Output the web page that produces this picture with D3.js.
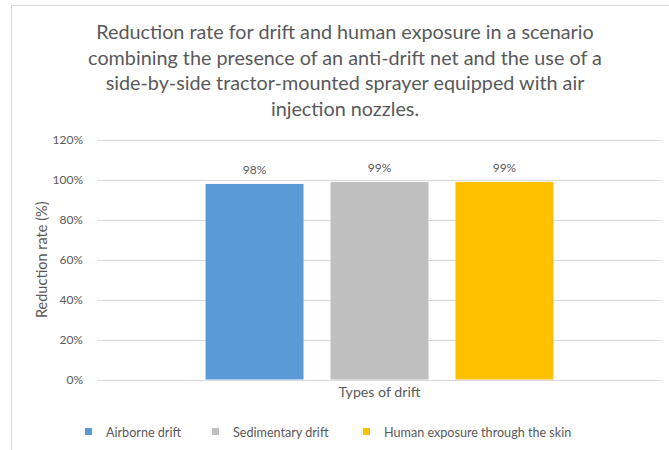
<!DOCTYPE html>
<html>
<head>
<meta charset="utf-8">
<script src="https://cdn.jsdelivr.net/npm/d3@7"></script>
<style>
  body { margin: 0; background: #fff; }
  text { font-family: Lato, "Open Sans", sans-serif; fill: #595959; }
</style>
</head>
<body>
<script>
// chart values
var category = ["Types of drift"];
var series = ["Airborne drift", "Sedimentary drift", "Human exposure through the skin"];
var values = [0.98, 0.99, 0.99];
var colors = ["#5B9BD5", "#BFBFBF", "#FFC000"];
var yTicks = [0, 0.2, 0.4, 0.6, 0.8, 1.0, 1.2];
var titleLines = [
    "Reduction rate for drift and human exposure in a scenario",
    "combining the presence of an anti-drift net and the use of a",
    "side-by-side tractor-mounted sprayer equipped with air",
    "injection nozzles."
];

var W = 669, H = 450;
var margin = {top: 140, right: 7, bottom: 70.5, left: 97},
    width = W - margin.left - margin.right,   // plot area width
    height = H - margin.top - margin.bottom;  // plot area height

var svg = d3.select("body").append("svg")
    .attr("width", W)
    .attr("height", H);

// light chart border (left and top edge visible)
svg.append("path")
    .attr("d", "M11.5,450 V5.5 H669")
    .attr("fill", "none")
    .attr("stroke", "#D9D9D9");

// title
svg.append("g").selectAll("text")
    .data(titleLines)
    .enter()
    .append("text")
    .attr("x", 345)
    .attr("y", function(d, i) { return 39 + i * 25.5; })
    .attr("text-anchor", "middle")
    .attr("font-size", "19.8px")
    .text(function(d) { return d; });

var g = svg.append("g")
    .attr("transform", "translate(" + margin.left + "," + margin.top + ")");

var x0 = d3.scaleBand().domain(category).range([0, width]).paddingOuter(0.312);
var x1 = d3.scaleBand().domain(series).range([0, x0.bandwidth()]).paddingInner(0.216);
var y = d3.scaleLinear().domain([0, 1.2]).range([height, 0]);

// gridlines
g.append("g").selectAll("line")
    .data(yTicks)
    .enter()
    .append("line")
    .attr("x1", 0)
    .attr("x2", width)
    .attr("y1", function(d) { return Math.round(y(d)) + 0.5; })
    .attr("y2", function(d) { return Math.round(y(d)) + 0.5; })
    .attr("stroke", "#D9D9D9");

// y axis labels
var yAxis = d3.axisLeft(y)
    .tickValues(yTicks)
    .tickFormat(d3.format(".0%"))
    .tickSize(0)
    .tickPadding(14);
g.append("g")
    .call(yAxis)
    .call(function(a) { a.select(".domain").remove(); })
    .selectAll("text")
    .attr("font-size", "12px")
    .style("font-family", "Lato, sans-serif")
    .attr("fill", "#595959");

// bars
var bars = g.append("g")
    .attr("transform", "translate(" + x0(category[0]) + ",0)");
bars.selectAll("rect")
    .data(values)
    .enter()
    .append("rect")
    .attr("x", function(d, i) { return x1(series[i]); })
    .attr("y", function(d) { return y(d); })
    .attr("width", x1.bandwidth())
    .attr("height", function(d) { return height - y(d); })
    .attr("fill", function(d, i) { return colors[i]; });

// value labels
bars.selectAll("text")
    .data(values)
    .enter()
    .append("text")
    .attr("x", function(d, i) { return x1(series[i]) + x1.bandwidth() / 2; })
    .attr("y", function(d) { return y(d) - 10; })
    .attr("text-anchor", "middle")
    .attr("font-size", "12px")
    .text(function(d) { return d3.format(".0%")(d); });

// x axis title (category name)
g.append("text")
    .attr("x", x0(category[0]) + x0.bandwidth() / 2)
    .attr("y", height + 17)
    .attr("text-anchor", "middle")
    .attr("font-size", "14.2px")
    .text(category[0]);

// y axis title
svg.append("text")
    .attr("transform", "translate(47," + (margin.top + height / 2) + ") rotate(-90)")
    .attr("text-anchor", "middle")
    .attr("font-size", "14.5px")
    .text("Reduction rate (%)");

// legend
var legendX = [85, 212, 363];
var legend = svg.append("g").selectAll("g")
    .data(series)
    .enter()
    .append("g")
    .attr("transform", function(d, i) { return "translate(" + legendX[i] + ",432)"; });
legend.append("rect")
    .attr("x", 0)
    .attr("y", -4)
    .attr("width", 7)
    .attr("height", 7)
    .attr("fill", function(d, i) { return colors[i]; });
legend.append("text")
    .attr("x", 21)
    .attr("y", 4.5)
    .attr("font-size", "12.6px")
    .text(function(d) { return d; });
</script>
</body>
</html>
